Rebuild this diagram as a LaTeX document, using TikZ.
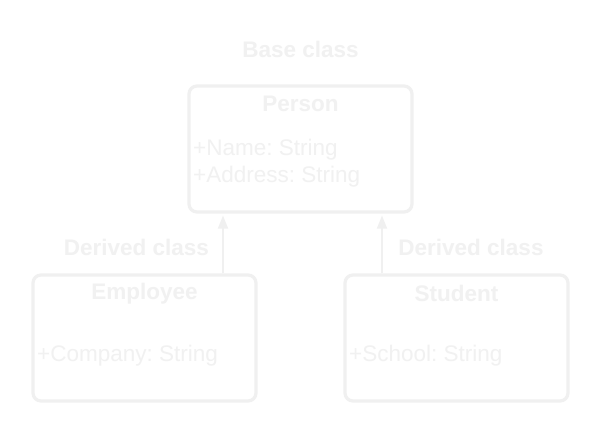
\documentclass[tikz,border=0pt]{standalone}
\usepackage{fontspec}
\setmainfont{Liberation Sans}
\usetikzlibrary{arrows.meta}
\definecolor{pale}{HTML}{F0F0F0}
\definecolor{paletext}{HTML}{F1F1F1}
\frenchspacing
\begin{document}
\begin{tikzpicture}[x=1pt,y=-1pt,
  classbox/.style={draw=pale,line width=3.2pt,rounded corners=8pt,minimum width=223pt,minimum height=126pt,inner sep=0pt},
  lbl/.style={text=paletext,font=\fontsize{22.5}{26}\selectfont\bfseries,inner sep=0pt},
  attr/.style={text=paletext,font=\fontsize{22.5}{27}\selectfont,inner sep=0pt,anchor=west,align=left},
  arr/.style={draw=pale,line width=1.5pt,-{Triangle[length=13pt,width=10pt]},shorten >=2pt}]
\useasboundingbox (0,0) rectangle (606,437);
\fill[white] (0,0) rectangle (606,437);
\node[classbox] (person) at (300.5,149) {};
\node[classbox] (emp) at (144.5,338) {};
\node[classbox] (stu) at (456.5,338) {};
\node[lbl] (base) at (300.5,49) {Base class};
\node[lbl] (pt) at (300.5,103.5) {Person};
\node[attr] (pa) at (193,163.5) {+Name: String\\+Address: String};
\node[lbl] (et) at (144.5,293.5) {Employee};
\node[attr] (ea) at (37,356) {+Company: String};
\node[lbl] (st) at (456.5,293.5) {Student};
\node[attr] (sa) at (349,356) {+School: String};
\node[lbl] (d1) at (136.5,247) {Derived class};
\node[lbl] (d2) at (471,247) {Derived class};
\coordinate (a1) at (223,0);
\coordinate (a2) at (382,0);
\draw[arr] (emp.north -| a1) -- (person.south -| a1);
\draw[arr] (stu.north -| a2) -- (person.south -| a2);
\end{tikzpicture}
\end{document}
